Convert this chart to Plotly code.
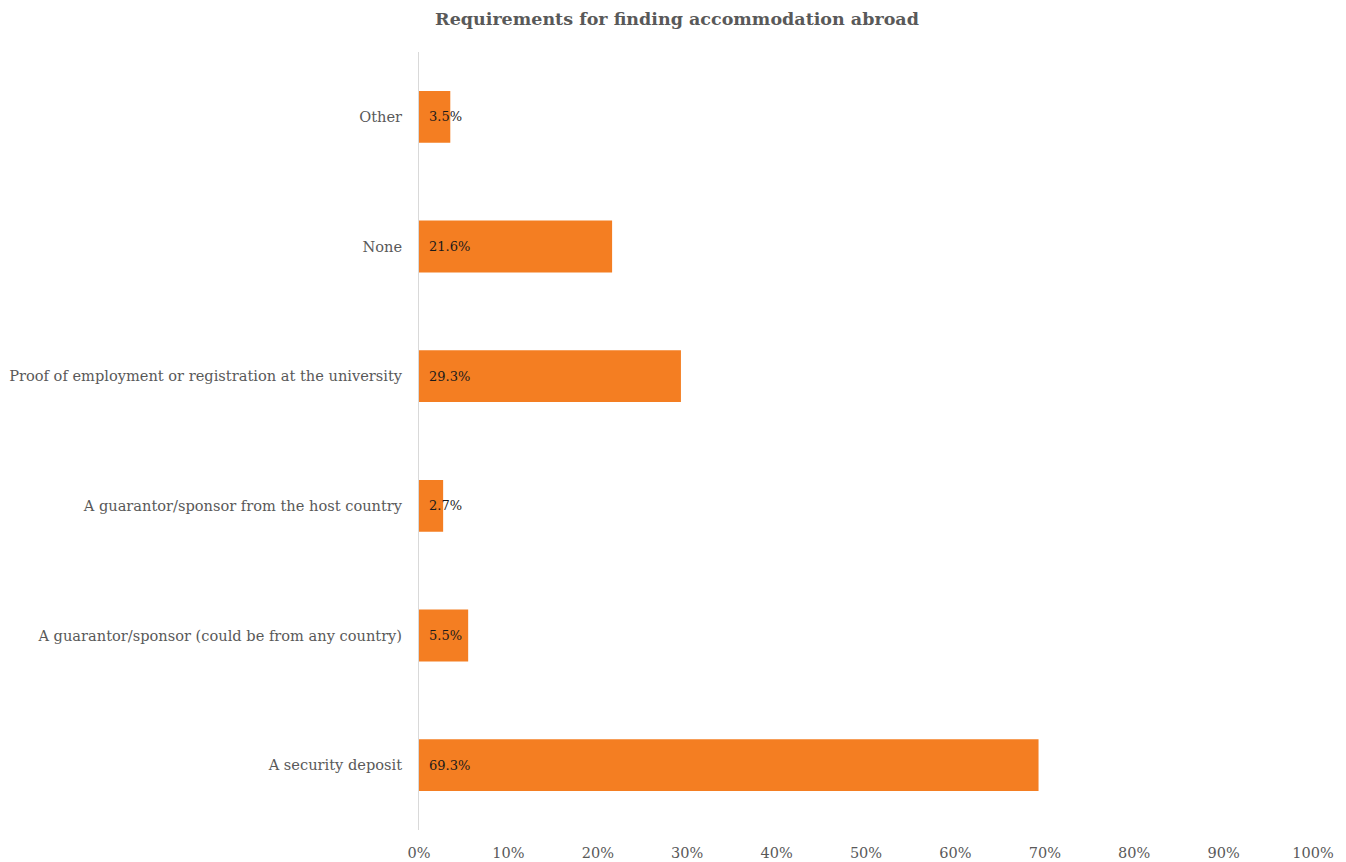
import plotly.graph_objects as go

categories = [
    "A security deposit",
    "A guarantor/sponsor (could be from any country)",
    "A guarantor/sponsor from the host country",
    "Proof of employment or registration at the university",
    "None",
    "Other",
]
values = [0.693, 0.055, 0.027, 0.293, 0.216, 0.035]
labels = ["69.3%", "5.5%", "2.7%", "29.3%", "21.6%", "3.5%"]

FONT = "DejaVu Serif"
GRAY = "#595959"
ORANGE = "#F47E22"

fig = go.Figure()
fig.add_trace(go.Bar(
    x=values, y=categories, orientation="h",
    marker=dict(color=ORANGE, line=dict(width=0)),
    hoverinfo="skip",
))
for c, v, t in zip(categories, values, labels):
    fig.add_annotation(x=0, y=c, text=t, showarrow=False, xanchor="left",
                       xshift=8, font=dict(family=FONT, size=13, color="#1a1a1a"))

fig.update_layout(
    width=1338, height=854,
    margin=dict(l=411, r=33, t=44, b=32, autoexpand=False),
    plot_bgcolor="white", paper_bgcolor="white",
    bargap=0.6,
    showlegend=False,
    title=dict(text="<b>Requirements for finding accommodation abroad</b>",
               x=0.5, xanchor="center", xref="container",
               y=1, yref="container", yanchor="top", pad=dict(t=5),
               font=dict(family=FONT, size=17.5, color=GRAY)),
    font=dict(family=FONT, color=GRAY),
)
fig.update_xaxes(range=[0, 1], dtick=0.1, tickformat=".0%", showgrid=False,
                 zeroline=False, showline=False, ticklabelstandoff=12,
                 automargin=False,
                 tickfont=dict(family=FONT, size=14.5, color=GRAY))
fig.update_yaxes(showgrid=False, zeroline=False, showline=True, linecolor="#d9d9d9",
                 linewidth=1, ticklabelstandoff=13, automargin=False,
                 tickfont=dict(family=FONT, size=14.6, color=GRAY))

fig.write_html("out.html")
